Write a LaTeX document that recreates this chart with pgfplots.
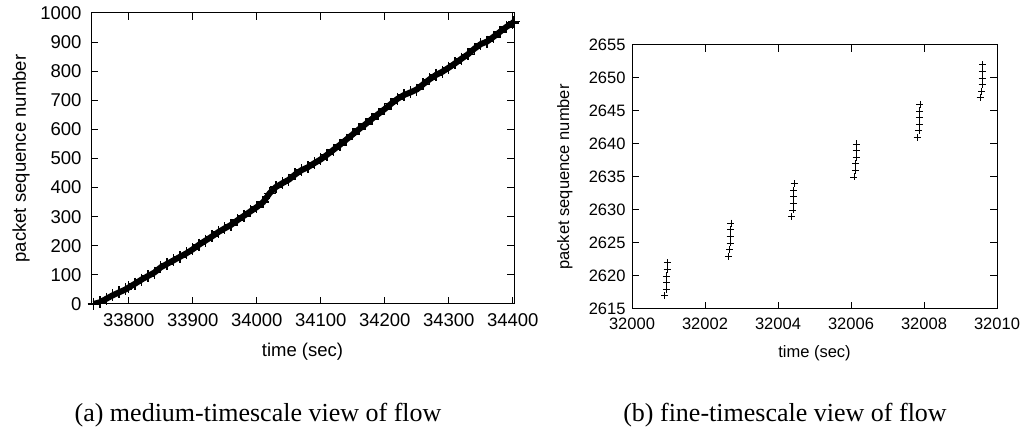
\documentclass[border=0pt]{standalone}
\usepackage{fontspec}
\setmainfont{Liberation Sans}
\newfontfamily\capfont{Liberation Serif}
\usepackage{pgfplots}
\pgfplotsset{compat=1.18}
\begin{document}
\begin{tikzpicture}[x=1pt,y=1pt]
\path[use as bounding box] (0,0) rectangle (1022,427);
\begin{axis}[
  at={(91pt,123pt)}, anchor=south west,
  scale only axis, width=423pt, height=291pt,
  xmin=33741, xmax=34402, ymin=0, ymax=1000,
  xtick={33800,33900,34000,34100,34200,34300,34400},
  ytick={0,100,200,300,400,500,600,700,800,900,1000},
  scaled ticks=false,
  /pgf/number format/assume math mode=true,
  /pgf/number format/fixed, /pgf/number format/precision=0,
  /pgf/number format/1000 sep={},
  tick align=inside, major tick length=7pt,
  axis line style={line width=1pt}, every tick/.style={line width=1pt, black},
  tick label style={font=\fontsize{18.5}{22}\selectfont},
  yticklabel style={xshift=-6pt},
  xticklabel style={yshift=-6pt},
  label style={font=\fontsize{18.5}{22}\selectfont},
  xlabel={time (sec)}, ylabel={packet sequence number},
  xlabel style={at={(axis description cs:0.5,-0.165)}, anchor=center},
  ylabel style={at={(axis description cs:-0.165,0.5)}, anchor=center, rotate=0},
]
\addplot[black, line width=6pt, mark=+, mark size=6pt, mark options={line width=1.4pt}] coordinates {
(33745,0) (33755,6) (33765,18) (33775,30) (33785,40) (33795,50) (33800,57)
(33810,70) (33820,84) (33830,96) (33840,108) (33850,126) (33860,138) (33870,150)
(33880,162) (33890,174) (33900,188) (33910,204) (33920,218) (33930,232) (33940,247)
(33950,260) (33960,272) (33970,288) (33980,303) (33990,318) (34000,333) (34010,350)
(34020,380) (34030,402) (34040,415) (34050,427) (34060,445) (34070,460) (34080,470)
(34090,484) (34100,497) (34110,513) (34120,530) (34130,547) (34140,565) (34150,583)
(34160,601) (34170,618) (34180,636) (34190,653) (34200,670) (34210,688) (34220,705)
(34230,718) (34240,727) (34250,737) (34260,755) (34270,772) (34280,787) (34290,798)
(34300,812) (34310,827) (34320,843) (34330,858) (34340,877) (34350,893) (34360,902)
(34370,918) (34380,935) (34390,952) (34400,966) (34402,970)
};
\end{axis}
\begin{axis}[
  at={(632pt,118pt)}, anchor=south west,
  scale only axis, width=365pt, height=264pt,
  xmin=32000, xmax=32010, ymin=2615, ymax=2655,
  xtick={32000,32002,32004,32006,32008,32010},
  ytick={2615,2620,2625,2630,2635,2640,2645,2650,2655},
  scaled ticks=false,
  /pgf/number format/assume math mode=true,
  /pgf/number format/fixed, /pgf/number format/precision=0,
  /pgf/number format/1000 sep={},
  tick align=inside, major tick length=7pt,
  axis line style={line width=1pt}, every tick/.style={line width=1pt, black},
  tick label style={font=\fontsize{16.5}{20}\selectfont},
  yticklabel style={xshift=-3pt},
  xticklabel style={yshift=-5pt},
  label style={font=\fontsize{16.5}{20}\selectfont},
  xlabel={time (sec)}, ylabel={packet sequence number},
  xlabel style={at={(axis description cs:0.5,-0.167)}, anchor=center},
  ylabel style={at={(axis description cs:-0.184,0.5)}, anchor=center},
]
\addplot[only marks, mark=+, mark size=3.5pt, mark options={line width=0.8pt, black}] coordinates {
(32000.90,2617) (32000.94,2618) (32000.95,2619) (32000.95,2620) (32000.96,2621) (32000.97,2622)
(32002.64,2623) (32002.68,2624) (32002.69,2625) (32002.69,2626) (32002.70,2627) (32002.71,2628)
(32004.37,2629) (32004.41,2630) (32004.42,2631) (32004.43,2632) (32004.43,2633) (32004.44,2634)
(32006.08,2635) (32006.12,2636) (32006.13,2637) (32006.14,2638) (32006.14,2639) (32006.15,2640)
(32007.81,2641) (32007.86,2642) (32007.87,2643) (32007.87,2644) (32007.88,2645) (32007.89,2646)
(32009.54,2647) (32009.58,2648) (32009.59,2649) (32009.59,2650) (32009.60,2651) (32009.61,2652)
};
\end{axis}
\node[font=\capfont\fontsize{26}{30}\selectfont] at (258,12) {(a) medium-timescale view of flow};
\node[font=\capfont\fontsize{26}{30}\selectfont] at (785,12) {(b) fine-timescale view of flow};
\end{tikzpicture}
\end{document}
